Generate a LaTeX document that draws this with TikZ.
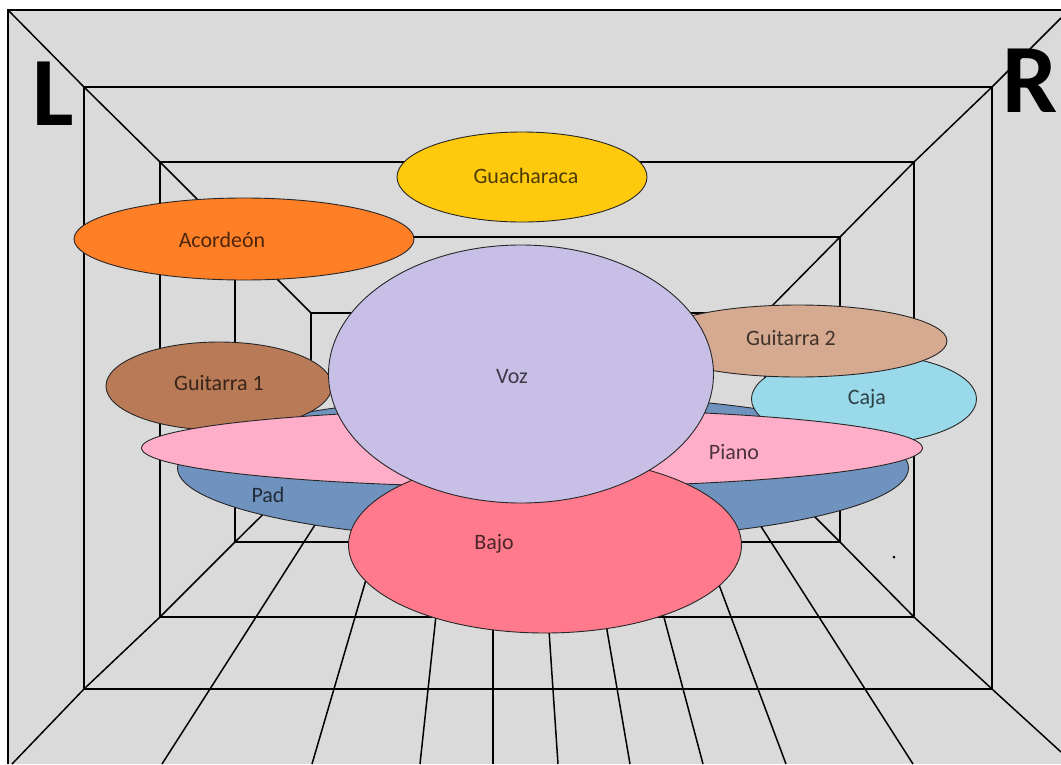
\documentclass[tikz,border=0pt]{standalone}
\usepackage{fontspec}
\setmainfont{Carlito}
\usetikzlibrary{shapes.geometric}

\definecolor{wall}{RGB}{218,218,218}
\definecolor{gold}{RGB}{255,201,14}
\definecolor{orange}{RGB}{255,127,39}
\definecolor{lavender}{RGB}{200,191,231}
\definecolor{tan}{RGB}{213,170,145}
\definecolor{sky}{RGB}{153,217,234}
\definecolor{brown}{RGB}{185,122,87}
\definecolor{rose}{RGB}{255,174,201}
\definecolor{steel}{RGB}{112,146,190}
\definecolor{coral}{RGB}{255,122,140}

\tikzset{
  room/.style={line width=1.5pt},
  blob/.style={ellipse, draw=black!85, line width=0.9pt, inner sep=0pt, fill=#1},
  tag/.style={font=\fontsize{22}{26}\selectfont, inner sep=0pt, text=#1!30!black},
  side/.style={font=\fontsize{98}{100}\selectfont\bfseries, inner sep=0pt}
}

\begin{document}
\begin{tikzpicture}[x=1pt,y=-1pt]
    \useasboundingbox (0,0) rectangle (1061,764);

    % Room
    \fill[white] (0,0) rectangle (1061,764);
    \fill[wall] (8,10) rectangle (1061,764);
    \draw[room] (8,764) -- (8,10) -- (1061,10);
    \draw[room] (84,87) rectangle (992,689);
    \draw[room] (160,162) rectangle (914,617);
    \draw[room] (235,237) rectangle (840,542);
    \draw[room] (311,313) rectangle (765,467);
    \draw[room] (8,10) -- (84,87) -- (160,162) -- (235,237) -- (311,313);
    \draw[room] (1061,18) -- (992,87) -- (914,162) -- (840,237) -- (765,313);
    \draw[room] (12,764) -- (84,689) -- (160,617) -- (235,542) -- (311,467);
    \draw[room] (1061,752) -- (992,689) -- (914,617) -- (840,542) -- (765,467);

    % Floor
    \foreach \a/\b in {162/352, 312/399, 420/452, 493/493, 558/538, 630/579, 703/624, 786/675, 913/723}
        \draw[room] (\a,764) -- (\b,467);
    \fill (894,557) circle (1.5);

    % Sides
    \node[side] (left) at (53,94) {L};
    \node[side] (right) at (1030,81) {R};

    % Instruments
    \node[blob=gold, minimum width=250pt, minimum height=90pt] (guacharaca) at (522,177) {};
    \node[tag=gold] (guacharaca-t) at (526,176) {Guacharaca};

    \node[blob=orange, minimum width=340pt, minimum height=82pt] (acordeon) at (244,239) {};
    \node[tag=orange] (acordeon-t) at (222,240) {Acordeón};

    \node[blob=steel, minimum width=731pt, minimum height=146pt] (pad) at (543,468) {};
    \node[tag=steel] (pad-t) at (268,495) {Pad};

    \node[blob=brown, minimum width=226pt, minimum height=88pt] (guitarra1) at (219,386) {};
    \node[tag=brown] (guitarra1-t) at (219,383) {Guitarra 1};

    \node[blob=sky, minimum width=225pt, minimum height=90pt] (caja) at (864,399) {};
    \node[tag=sky] (caja-t) at (867,399) {Caja};

    \node[blob=tan, minimum width=298pt, minimum height=72pt] (guitarra2) at (798,341) {};
    \node[tag=tan] (guitarra2-t) at (791,338) {Guitarra 2};

    \node[blob=rose, minimum width=781pt, minimum height=78pt] (piano) at (532,448) {};
    \node[tag=rose] (piano-t) at (734,452) {Piano};

    \node[blob=coral, minimum width=393pt, minimum height=176pt] (bajo) at (545,545) {};
    \node[tag=coral] (bajo-t) at (494,544) {Bajo};

    \node[blob=lavender, minimum width=385pt, minimum height=258pt] (voz) at (521,374) {};
    \node[tag=lavender] (voz-t) at (512,377) {Voz};
\end{tikzpicture}
\end{document}
